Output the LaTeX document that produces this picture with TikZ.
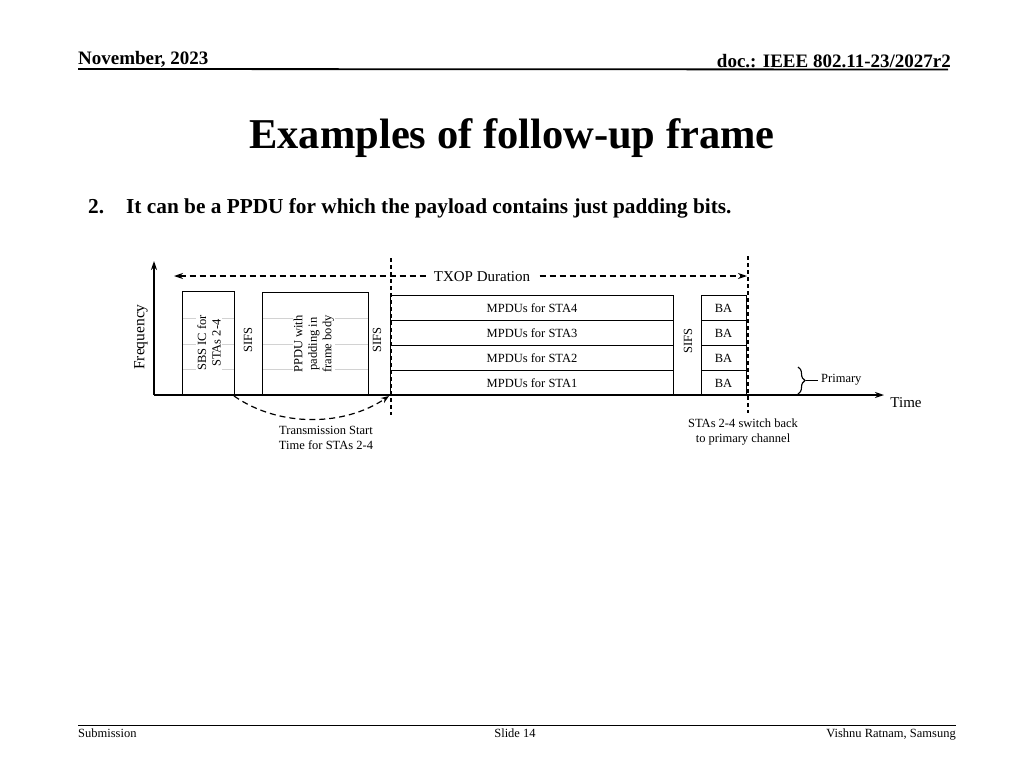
\documentclass[tikz,border=0pt]{standalone}
\usepackage{fontspec}
\setmainfont{Liberation Serif}
\usetikzlibrary{arrows.meta,decorations.pathreplacing}
\begin{document}
\begin{tikzpicture}[x=1pt,y=-1pt,
  box/.style={draw,line width=1.1pt},
  lbl/.style={font=\fontsize{12.5}{14.5}\selectfont,inner sep=1pt,align=center},
  rlbl/.style={lbl,rotate=90,fill=white},
  dline/.style={line width=1.3pt,dash pattern=on 4pt off 3pt},
  grid/.style={draw=gray!35,line width=0.8pt},
  axis/.style={line width=1.6pt,-{Stealth[length=9pt,width=6pt]}},
  hdr/.style={font=\bfseries\fontsize{19}{21}\selectfont,inner sep=0},
  ftr/.style={font=\fontsize{12.5}{14}\selectfont,inner sep=0}
]
\useasboundingbox (0,0) rectangle (1024,768);
% header
\node[hdr,anchor=base west] (date) at (78,64) {November, 2023};
\node[hdr,anchor=base east] (doc) at (951,67) {doc.: IEEE 802.11-23/2027r2};
\draw[line width=1.8pt] (78,69) coordinate (hl) -- (948,69.5) coordinate (hr);
% title
\node[font=\bfseries\fontsize{42.5}{46}\selectfont,inner sep=0] (title) at (512,138) {Examples of follow-up frame};
\node[anchor=base west,font=\bfseries\fontsize{21.3}{23}\selectfont,inner sep=0] (num) at (88,213) {2.};
\node[anchor=base west,font=\bfseries\fontsize{21.3}{23}\selectfont,inner sep=0] (sub) at (126,213) {It can be a PPDU for which the payload contains just padding bits.};
% footer
\draw[line width=1pt] (78,725) coordinate (fl) -- (956,725) coordinate (fr);
\node[ftr,anchor=base west] (subm) at (78,737) {Submission};
\node[ftr,anchor=base] (slide) at (515,737) {Slide 14};
\node[ftr,anchor=base east] (auth) at (956,737) {Vishnu Ratnam, Samsung};

% diagram
\coordinate (O) at (154,395);
\coordinate (Ytip) at (154,261);
\coordinate (Xtip) at (884,395);
% faint lines in first boxes
\foreach \yy in {318,344,369}{
  \draw[grid] (182,\yy) -- (234,\yy);
  \draw[grid] (262,\yy) -- (368,\yy);
}
\node[box,minimum width=52pt,minimum height=103pt,inner sep=0,anchor=south west] (sbs) at (182,395) {};
\node[box,minimum width=106pt,minimum height=102pt,inner sep=0,anchor=south west] (ppdu) at (262,395) {};
\node[rlbl] (sbst) at (209,343) {SBS IC for\\STAs 2-4};
\node[rlbl] (ppdut) at (314,344) {PPDU with\\padding in\\frame body};
\node[rlbl,fill=none] (sifs1) at (248,340) {SIFS};
\node[rlbl,fill=none] (sifs2) at (377,340) {SIFS};
\node[rlbl,fill=none] (sifs3) at (688,341) {SIFS};
% MPDU rows
\foreach \i/\t/\yy in {4/4/295,3/3/320,2/2/345,1/1/370}{
  \node[box,lbl,minimum width=283pt,minimum height=25pt,inner sep=0,anchor=north west] (m\i) at (390,\yy) {MPDUs for STA\t};
  \node[box,lbl,minimum width=45pt,minimum height=25pt,inner sep=0,anchor=north west] (ba\i) at (700.5,\yy) {BA};
}
% axes
\draw[axis] (O) -- (Ytip);
\draw[axis] (O) -- (Xtip);
\node[font=\fontsize{15.5}{17}\selectfont,rotate=90,inner sep=0] (freq) at (141,337) {Frequency};
\node[font=\fontsize{15}{17}\selectfont,inner sep=0] (time) at (906,403) {Time};
% dashed verticals
\draw[dline] (391,258) coordinate (d1t) -- (391,415) coordinate (d1b);
\draw[dline] (748,256) coordinate (d2t) -- (748,413) coordinate (d2b);
% TXOP
\coordinate (tl) at (174,276);
\coordinate (tr) at (747,276);
\draw[line width=1.2pt,dash pattern=on 6pt off 4pt,{Stealth[length=9pt,width=6pt]}-{Stealth[length=9pt,width=6pt]}] (tl) -- (tr);
\node[font=\fontsize{15}{17}\selectfont,fill=white,inner xsep=8pt,inner ysep=2pt] (txop) at (482,277) {TXOP Duration};
% primary brace
\draw[line width=1.1pt,decorate,decoration={brace,amplitude=7pt}] (798,367) coordinate (br1) -- (798,394) coordinate (br2);
\draw[line width=1.1pt] (806,380.5) -- (818,380.5);
\node[lbl,anchor=west] (prim) at (820,380) {Primary};
% labels below
\node[lbl] (stas) at (743,432) {STAs 2-4 switch back\\to primary channel};
\node[lbl] (tst) at (326,438) {Transmission Start\\Time for STAs 2-4};
% curved arrow
\coordinate (c1) at (234,396);
\coordinate (c2) at (389,396);
\draw[line width=1.2pt,dash pattern=on 6pt off 4pt,-{Stealth[length=8pt,width=6pt]}] (c1) .. controls (280,428) and (345,426) .. (c2);
\end{tikzpicture}
\end{document}
